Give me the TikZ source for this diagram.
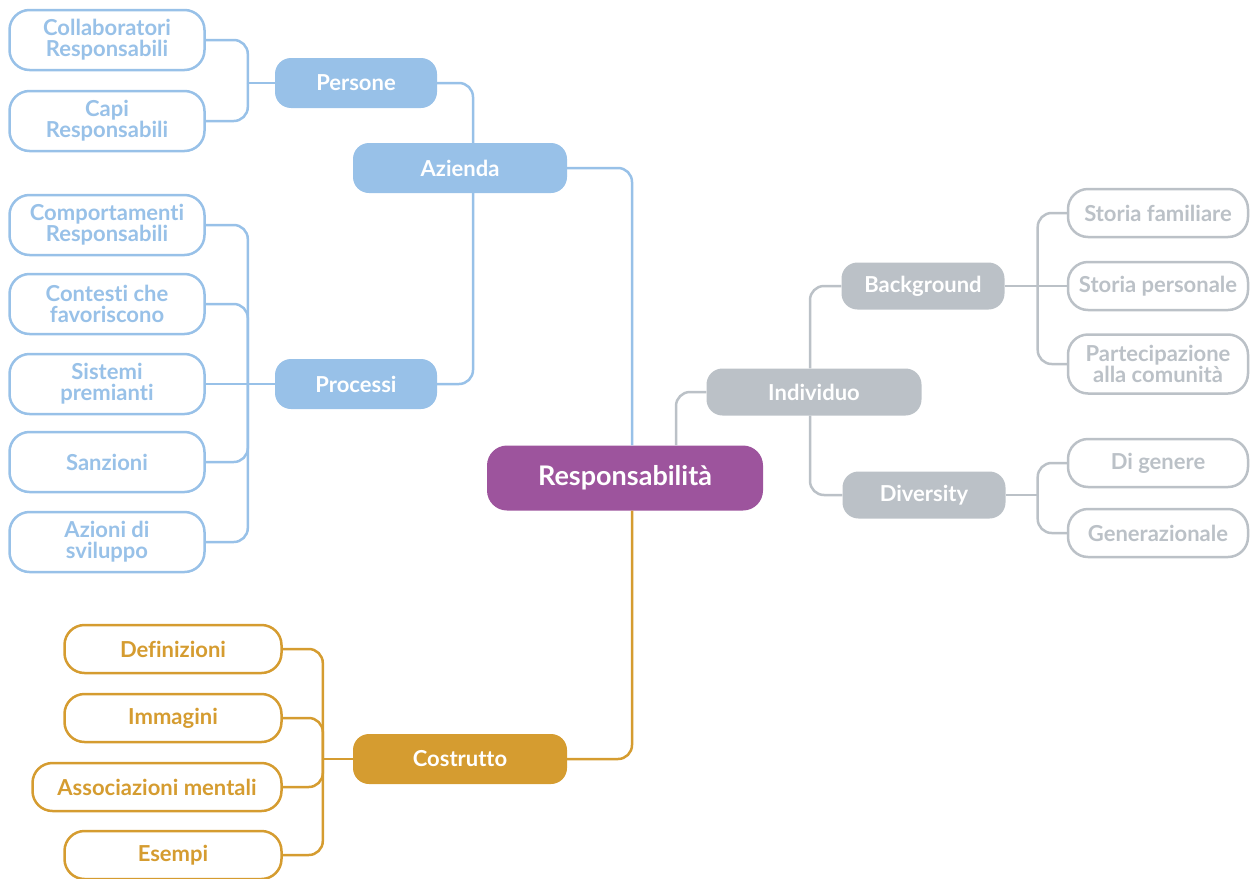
\documentclass[tikz,border=0pt]{standalone}
\usepackage{fontspec}
\setmainfont{Lato}[Ligatures=NoCommon]
\definecolor{azzurro}{RGB}{152,193,232}
\definecolor{viola}{RGB}{157,84,157}
\definecolor{grigio}{RGB}{187,193,199}
\definecolor{oro}{RGB}{213,156,48}
\tikzset{
    radice/.style={fill=viola, text=white, rounded corners=20, minimum width=276, minimum height=65, font=\bfseries\fontsize{27}{30}\selectfont},
    ramo/.style={fill=#1, text=white, rounded corners=16, minimum height=50, font=\bfseries\fontsize{22}{24}\selectfont},
    foglia/.style={draw=#1, fill=white, text=#1, line width=2.5, rounded corners=20, minimum height=48, inner xsep=2, align=center, font=\bfseries\fontsize{22}{21}\selectfont},
    linea/.style={draw=#1, line width=2.5, rounded corners=14},
}
\begin{document}
\begin{tikzpicture}[x=1pt, y=-1pt]
    \useasboundingbox (0,0) rectangle (1252,878);

    % centro
    \node[radice] (resp) at (625,478) {Responsabilità};

    % Azienda
    \node[ramo=azzurro, minimum width=214] (azienda) at (460,168) {Azienda};
    \node[ramo=azzurro, minimum width=162] (persone) at (356,83) {Persone};
    \node[ramo=azzurro, minimum width=162] (processi) at (356,384) {Processi};

    \node[foglia=azzurro, minimum width=195, minimum height=60] (collab) at (107,40) {Collaboratori\\Responsabili};
    \node[foglia=azzurro, minimum width=195, minimum height=60] (capi) at (107,121) {Capi\\Responsabili};

    \node[foglia=azzurro, minimum width=195, minimum height=60] (comport) at (107,225) {Comportamenti\\Responsabili};
    \node[foglia=azzurro, minimum width=195, minimum height=60] (contesti) at (107,304) {Contesti che\\favoriscono};
    \node[foglia=azzurro, minimum width=195, minimum height=60] (sistemi) at (107,384) {Sistemi\\premianti};
    \node[foglia=azzurro, minimum width=195, minimum height=60] (sanzioni) at (107,462) {Sanzioni};
    \node[foglia=azzurro, minimum width=195, minimum height=60] (azioni) at (107,542) {Azioni di\\sviluppo};

    \draw[linea=azzurro] (azienda.east) -| ([xshift=7]resp.north);
    \draw[linea=azzurro] (persone.east) -| ([xshift=13]azienda.north);
    \draw[linea=azzurro] ([xshift=13]azienda.south) |- (processi.east);

    \draw[linea=azzurro] (persone.west) -- ++(-27,0) coordinate (gp);
    \draw[linea=azzurro] (collab.east) -| (gp);
    \draw[linea=azzurro] (capi.east) -| (gp);

    \draw[linea=azzurro] (processi.west) -- ++(-27,0) coordinate (gq);
    \foreach \f in {comport, contesti, sanzioni, azioni}
        \draw[linea=azzurro] (\f.east) -| (gq);
    \draw[linea=azzurro] (sistemi.east) -- (gq);

    % Individuo
    \node[ramo=grigio, minimum width=215, minimum height=47] (individuo) at (814,392) {Individuo};
    \node[ramo=grigio, minimum width=163, minimum height=47] (backgr) at (923,286) {Background};
    \node[ramo=grigio, minimum width=163, minimum height=47] (diversity) at (924,495) {Diversity};

    \node[foglia=grigio, minimum width=180] (famil) at (1158,213) {Storia familiare};
    \node[foglia=grigio, minimum width=180] (person) at (1158,286) {Storia personale};
    \node[foglia=grigio, minimum width=180, minimum height=59] (partec) at (1158,364) {Partecipazione\\alla comunità};
    \node[foglia=grigio, minimum width=180] (genere) at (1158,463) {Di genere};
    \node[foglia=grigio, minimum width=180] (generaz) at (1158,533) {Generazionale};

    \draw[linea=grigio] ([xshift=51]resp.north) |- (individuo.west);
    \draw[linea=grigio] ([xshift=-4]individuo.north) |- (backgr.west);
    \draw[linea=grigio] ([xshift=-4]individuo.south) |- (diversity.west);

    \draw[linea=grigio] (backgr.east) -- ++(33,0) coordinate (gb);
    \draw[linea=grigio] (famil.west) -| (gb);
    \draw[linea=grigio] (person.west) -- (gb);
    \draw[linea=grigio] (partec.west) -| (gb);

    \draw[linea=grigio] (diversity.east) -- ++(32,0) coordinate (gd);
    \draw[linea=grigio] (genere.west) -| (gd);
    \draw[linea=grigio] (generaz.west) -| (gd);

    % Costrutto
    \node[ramo=oro, minimum width=214] (costrutto) at (460,759) {Costrutto};

    \node[foglia=oro, minimum width=217] (defin) at (173,649) {Definizioni};
    \node[foglia=oro, minimum width=217] (immag) at (173,718) {Immagini};
    \node[foglia=oro, minimum width=249] (assoc) at (157,787) {Associazioni mentali};
    \node[foglia=oro, minimum width=217] (esempi) at (173,855) {Esempi};

    \draw[linea=oro] ([xshift=7]resp.south) |- (costrutto.east);
    \draw[linea=oro] (costrutto.west) -- ++(-30,0) coordinate (gc);
    \foreach \f in {defin, immag, assoc, esempi}
        \draw[linea=oro] (\f.east) -| (gc);
\end{tikzpicture}
\end{document}
